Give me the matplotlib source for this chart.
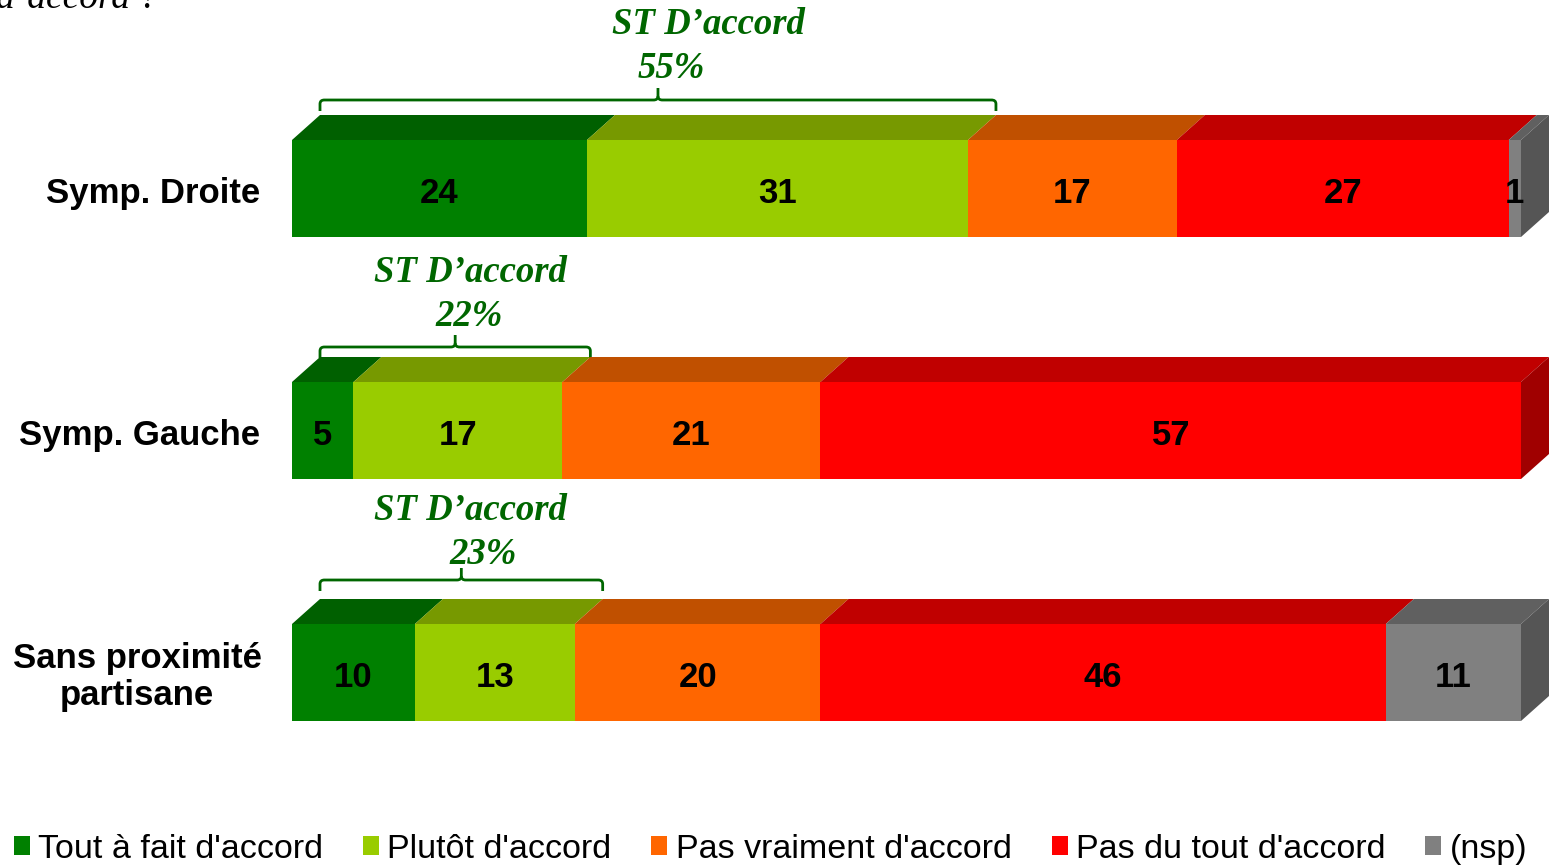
import numpy as np
import matplotlib
matplotlib.use("Agg")
from matplotlib import pyplot as plt
from matplotlib.patches import Polygon, Rectangle
from matplotlib.path import Path
from matplotlib.patches import PathPatch

# data
groups = ["Symp. Droite", "Symp. Gauche", "Sans proximité\npartisane"]
series = ["Tout à fait d'accord", "Plutôt d'accord", "Pas vraiment d'accord",
          "Pas du tout d'accord", "(nsp)"]
tout_accord = [24, 5, 10]
plutot_accord = [31, 17, 13]
pas_vraiment = [17, 21, 20]
pas_du_tout = [27, 57, 46]
nsp = [1, 0, 11]
st_accord = [55, 22, 23]

values = np.array([tout_accord, plutot_accord, pas_vraiment, pas_du_tout, nsp])

front = ['#008000', '#99CC00', '#FF6600', '#FF0000', '#808080']
top = ['#006000', '#779900', '#C05000', '#C00000', '#606060']
side = ['#005000', '#668000', '#A04000', '#A00000', '#555555']
green_txt = '#006600'

fig = plt.figure(figsize=(15.5, 8.66), dpi=100)
ax = fig.add_axes([0, 0, 1, 1])
# 0% at x=292px, 100% at x=1521px ; rows every 242px starting at 188.5px
ax.set_xlim(-292 / 12.29, (1550 - 292) / 12.29)
ax.set_ylim((866 - 188.5) / 242, -188.5 / 242)
ax.axis('off')

h = 97 / 242          # bar height
dx = 28 / 12.29       # depth in x
dy = 25 / 242         # depth in y

for i in range(len(groups)):
    left = 0
    yt = i - h / 2
    yb = i + h / 2
    last = max(k for k in range(5) if values[k, i] > 0)
    for k in range(5):
        v = values[k, i]
        if v == 0:
            continue
        ax.barh(i, v, left=left, height=h, color=front[k], linewidth=0, zorder=2)
        ax.add_patch(Polygon([(left, yt), (left + dx, yt - dy), (left + v + dx, yt - dy),
                              (left + v, yt)], closed=True, facecolor=top[k],
                             linewidth=0, zorder=2))
        if k == last:
            r = left + v
            ax.add_patch(Polygon([(r, yt), (r + dx, yt - dy), (r + dx, yb - dy), (r, yb)],
                                 closed=True, facecolor=side[k], linewidth=0, zorder=2))
        ax.text(left + v / 2, i + 0.02, str(v), ha='center', va='center',
                fontsize=25, fontweight='bold', family='Liberation Sans', zorder=3)
        left += v

# category labels
ax.text(-2.6, 0.02, groups[0], ha='right', va='center', fontsize=25, fontweight='bold',
        family='Liberation Sans')
ax.text(-2.6, 1.02, groups[1], ha='right', va='center', fontsize=25, fontweight='bold',
        family='Liberation Sans')
ax.text(-12.6, 2.02, groups[2], ha='center', va='center', fontsize=25,
        fontweight='bold', family='Liberation Sans', multialignment='center',
        linespacing=1.15)

# braces with "ST D'accord" labels
brace_y = [(100 - 188.5) / 242, (347 - 430.5) / 242 + 1, (580 - 672.5) / 242 + 2]
title_pos = [(708, 24, 671, 69), (470, 272, 469, 317), (470, 510, 483, 554)]


def px2x(p):
    return (p - 292) / 12.29


def px2y(p):
    return (p - 188.5) / 242


for i, s in enumerate(st_accord):
    x0 = dx
    x1 = s + dx
    xm = (x0 + x1) / 2
    yb = brace_y[i]
    e = 11 / 242
    t = 12 / 242
    rx = 0.35
    ry = 4 / 242
    verts = [(x0, yb + e), (x0, yb + ry), (x0, yb), (x0 + rx, yb),
             (xm - rx, yb), (xm, yb), (xm, yb - ry), (xm, yb - t)]
    codes = [Path.MOVETO, Path.LINETO, Path.CURVE3, Path.CURVE3,
             Path.LINETO, Path.CURVE3, Path.CURVE3, Path.LINETO]
    ax.add_patch(PathPatch(Path(verts, codes), fill=False, edgecolor=green_txt, lw=2))
    verts2 = [(x1, yb + e), (x1, yb + ry), (x1, yb), (x1 - rx, yb),
              (xm + rx, yb), (xm, yb), (xm, yb - ry)]
    codes2 = [Path.MOVETO, Path.LINETO, Path.CURVE3, Path.CURVE3,
              Path.LINETO, Path.CURVE3, Path.CURVE3]
    ax.add_patch(PathPatch(Path(verts2, codes2), fill=False, edgecolor=green_txt, lw=2))
    tx, ty, px, py = title_pos[i]
    ax.text(px2x(tx), px2y(ty), "ST D\u2019accord", ha='center', va='center',
            fontsize=26.5, fontweight='bold', style='italic', color=green_txt,
            family='Liberation Serif')
    ax.text(px2x(px), px2y(py), f"{s}%", ha='center', va='center',
            fontsize=26.5, fontweight='bold', style='italic', color=green_txt,
            family='Liberation Serif')

# question text, cut at the top edge as in the source slide
ax.text(px2x(158), px2y(8), "d\u2019accord ?", ha='right', va='baseline', fontsize=27,
        style='italic', family='Liberation Serif', clip_on=False)

# legend
handles = [Rectangle((0, 0), 1, 1, facecolor=c, linewidth=0) for c in front]
fig.legend(handles, series, loc='lower left', bbox_to_anchor=(0.0, -0.014), ncol=5,
           frameon=False, prop={'family': 'Liberation Sans', 'size': 24.5},
           handlelength=0.47, handleheight=0.47, handletextpad=0.24, columnspacing=1.18,
           borderaxespad=0)

fig.savefig("out.png", dpi=100)
